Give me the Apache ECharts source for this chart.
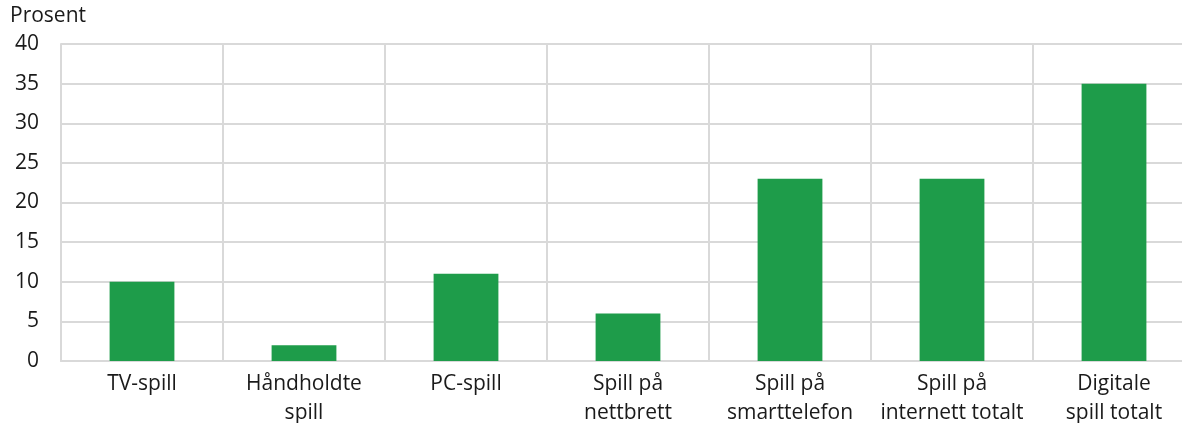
<!DOCTYPE html>
<html><head><meta charset="utf-8">
<script src="https://cdn.jsdelivr.net/npm/echarts@6/dist/echarts.min.js"></script>
<style>html,body{margin:0;padding:0;background:#fff}#c{width:1182px;height:423px}</style>
</head><body><div id="c"></div>
<script>
const categories = ["TV-spill", "Håndholdte\nspill", "PC-spill", "Spill på\nnettbrett", "Spill på\nsmarttelefon", "Spill på\ninternett totalt", "Digitale\nspill totalt"];
const values = [10, 2, 11, 6, 23, 23, 35];
const yTicks = {min: 0, max: 40, interval: 5};
const yName = "Prosent";

const chart = echarts.init(document.getElementById('c'), null, {renderer: 'canvas'});
const font = "'Open Sans', 'Noto Sans', sans-serif";
const gridColor = '#d9d9d9';
chart.setOption({
  animation: false,
  graphic: [{type: 'text', left: 10, top: 6, style: {text: yName, font: "21px " + font, fill: '#1a1a1a'}}],
  grid: {left: 61, right: -13, top: 44, bottom: 62, outerBoundsMode: 'none', containLabel: false},
  xAxis: {
    type: 'category', data: categories,
    axisTick: {show: false},
    axisLine: {show: true, lineStyle: {color: gridColor, width: 2}},
    splitLine: {show: true, lineStyle: {color: gridColor, width: 2}},
    axisLabel: {fontFamily: font, fontSize: 21, color: '#1a1a1a', lineHeight: 29, margin: 9, interval: 0}
  },
  yAxis: {
    type: 'value', min: yTicks.min, max: yTicks.max, interval: yTicks.interval,
    axisLine: {show: true, lineStyle: {color: gridColor, width: 2}},
    axisTick: {show: false},
    splitLine: {show: true, lineStyle: {color: gridColor, width: 2}},
    axisLabel: {fontFamily: font, fontSize: 21, color: '#1a1a1a', margin: 22}
  },
  series: [{type: 'bar', data: values, barWidth: '40%', itemStyle: {color: '#1e9c4a'}}]
});
</script></body></html>
